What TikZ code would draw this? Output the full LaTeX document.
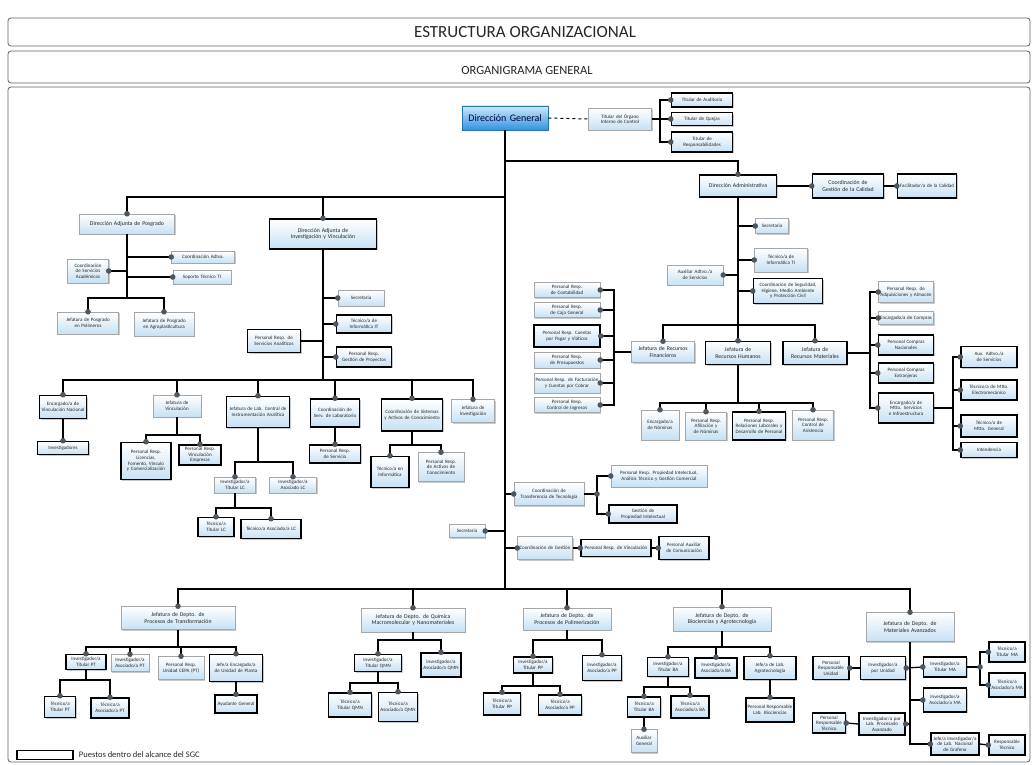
\documentclass[tikz,border=0pt]{standalone}
\usepackage{fontspec}
\setmainfont{Carlito}
\usetikzlibrary{positioning,shadows}
\definecolor{boxblue}{RGB}{198,225,245}
\definecolor{dgtop}{RGB}{205,233,251}
\definecolor{dgbot}{RGB}{48,146,222}
\definecolor{dotgray}{RGB}{78,86,96}
\definecolor{framegray}{RGB}{95,95,95}
\hyphenpenalty=10000
\exhyphenpenalty=10000

\begin{document}
\begin{tikzpicture}[x=1pt,y=-1pt,
box/.style={rectangle, draw=gray!70, line width=0.5pt, top color=white, bottom color=boxblue,
  drop shadow={shadow xshift=1.3pt, shadow yshift=-1.3pt, fill=gray!70, opacity=0.6},
  align=center, inner xsep=1pt, inner ysep=0.5pt,
  font=\fontsize{5}{5.6}\selectfont, text=black!85},
sgc/.style={box, draw=black, line width=1.5pt},
major/.style={font=\fontsize{5.8}{6.6}\selectfont},
sz/.style 2 args={text width=#1pt, minimum height=#2pt},
dg/.style={box, top color=dgtop, bottom color=dgbot, draw=dgbot!80!black, line width=0.8pt,
  font=\fontsize{10}{11}\selectfont, text=blue!25!black},
link/.style={line width=1.3pt, black},
frame/.style={draw=framegray, line width=0.8pt, rounded corners=3pt},
dotc/.style={fill=dotgray}
]
\useasboundingbox (0,0) rectangle (1036,765);

% frames and titles
\draw[frame] (8,18) rectangle (1030,46);
\draw[frame] (8,51) rectangle (1030,83);
\draw[frame] (8,87) rectangle (1030,762);
\node[font=\fontsize{17}{19}\selectfont, text=black!85] (t1) at (525,32) {ESTRUCTURA ORGANIZACIONAL};
\node[font=\fontsize{12.5}{14}\selectfont, text=black!85] (t2) at (527,70) {ORGANIGRAMA GENERAL};

% direccion general
\node[dg, text width=84pt, minimum height=24pt] (DG) at (505,118) {Dirección General};
\node[box, sz={61}{22}] (OIC) at (620,119) {Titular del Órgano Interno de Control};
\node[sgc, sz={59}{14}] (TAud) at (702,100) {Titular de Auditoría};
\node[sgc, sz={59}{13}] (TQue) at (702,119) {Titular de Quejas};
\node[sgc, sz={59}{20}] (TRes) at (702,142) {Titular de Responsabilidades};

% direccion administrativa
\node[sgc, major, sz={75}{22}] (DA) at (738,186) {Dirección Administrativa};
\node[sgc, major, sz={69}{24}] (CGC) at (848,186) {Coordinación de Gestión de la Calidad};
\node[sgc, sz={57}{24}] (FC) at (927,186) {Facilitador/a de la Calidad};
\node[box, sz={31}{15}] (SecA) at (772,226) {Secretaria};
\node[box, sz={51}{24}] (TITI) at (781,260) {Técnico/a de Informática TI};
\node[box, sz={54}{20}] (AAS) at (695,275) {Auxiliar Adtvo./a de Servicios};
\node[sgc, sz={67}{25}] (CSH) at (788,291) {Coordinación de Seguridad, Higiene, Medio Ambiente y Protección Civil};
\node[box, major, sz={61}{21}] (JRF) at (663,352) {Jefatura de Recursos Financieros};
\node[sgc, major, sz={63}{23}] (JRH) at (738,353) {Jefatura de Recursos Humanos};
\node[sgc, major, sz={62}{23}] (JRM) at (815,353) {Jefatura de Recursos Materiales};
\node[box, sz={64}{15}] (F1) at (567,290) {Personal Resp. de Contabilidad};
\node[box, sz={64}{15}] (F2) at (567,310) {Personal Resp. de Caja General};
\node[sgc, sz={64}{22}] (F3) at (567,336) {Personal Resp. Cuentas por Pagar y Viáticos};
\node[box, sz={64}{16}] (F4) at (567,360) {Personal Resp. de Presupuestos};
\node[box, sz={64}{20}] (F5) at (567,383) {Personal Resp. de Facturación y Cuentas por Cobrar};
\node[box, sz={64}{15}] (F6) at (567,405) {Personal Resp. Control de Ingresos};
\node[box, sz={36}{30}] (H1) at (660,425) {Encargado/a de Nóminas};
\node[box, sz={39}{28}] (H2) at (706,426) {Personal Resp. Afiliación y de Nóminas};
\node[sgc, sz={51}{28}] (H3) at (759,426) {Personal Resp. Relaciones Laborales y Desarrollo de Personal};
\node[box, sz={39}{30}] (H4) at (813,425) {Personal Resp. Control de Asistencia};
\node[box, sz={53}{21}] (M1) at (906,292) {Personal Resp. de Adquisiciones y Almacén};
\node[box, sz={53}{13}] (M2) at (906,318) {Encargado/a de Compras};
\node[sgc, sz={53}{20}] (M3) at (906,345) {Personal Compras Nacionales};
\node[sgc, sz={53}{20}] (M4) at (906,373) {Personal Compras Extranjeras};
\node[sgc, sz={53}{30}] (M5) at (906,408) {Encargado/a de Mtto. Servicios e Infraestructura};
\node[sgc, sz={54}{21}] (S1) at (989,357) {Aux. Adtvo./a de Servicios};
\node[sgc, sz={54}{20}] (S2) at (989,390) {Técnico/a de Mtto. Electromecánico};
\node[sgc, sz={54}{22}] (S3) at (989,426) {Técnico/a de Mtto. General};
\node[sgc, sz={54}{15}] (S4) at (989,450) {Intendencia};

% posgrado
\node[box, major, sz={93}{20}] (DAP) at (127,224) {Dirección Adjunta de Posgrado};
\node[box, sz={39}{24}] (CSA) at (88,271) {Coordinación de Servicios Académicos};
\node[box, sz={61}{12}] (CAd) at (203,257) {Coordinación Adtva.};
\node[box, sz={56}{14}] (STI) at (202,277) {Soporte Técnico TI};
\node[box, sz={59}{22}] (JPP) at (88,323) {Jefatura de Posgrado en Polímeros};
\node[box, sz={58}{24}] (JPA) at (164,324) {Jefatura de Posgrado en Agroplasticultura};

% investigacion y vinculacion
\node[sgc, major, sz={105}{30}] (DAI) at (323,234) {Dirección Adjunta de Investigación y Vinculación};
\node[box, sz={44}{16}] (SecI) at (361,298) {Secretaria};
\node[sgc, sz={53}{18}] (TInf) at (364,324) {Técnico/a de Informática IT};
\node[sgc, sz={53}{20}] (PGP) at (364,357) {Personal Resp. Gestión de Proyectos};
\node[sgc, sz={51}{23}] (PSA) at (274,341) {Personal Resp. de Servicios Analíticos};
\node[sgc, sz={45}{23}] (EVN) at (63,407) {Encargado/a de Vinculación Nacional};
\node[sgc, sz={49}{13}] (Inv) at (63,448) {Investigadores};
\node[box, sz={46}{22}] (JV) at (177,406) {Jefatura de Vinculación};
\node[sgc, sz={48}{37}] (PLic) at (146,461) {Personal Resp. Licencias, Fomento, Vínculo y Comercialización};
\node[sgc, sz={40}{20}] (PVI) at (200,455) {Personal Resp. Vinculación Empresas};
\node[sgc, sz={61}{31}] (JLC) at (258,412) {Jefatura de Lab. Central de Instrumentación Analítica};
\node[box, sz={39}{16}] (ITLC) at (235,485) {Investigador/a Titular LC};
\node[box, sz={45}{16}] (IALC) at (293,485) {Investigador/a Asociado LC};
\node[sgc, sz={34}{19}] (TTLC) at (216,527) {Técnico/a Titular LC};
\node[sgc, sz={58}{19}] (TALC) at (271,529) {Técnico/a Asociado/a LC};
\node[sgc, sz={47}{28}] (CSL) at (335,413) {Coordinación de Serv. de Laboratorio};
\node[sgc, sz={49}{18}] (PRS) at (335,454) {Personal Resp. de Servicio};
\node[sgc, sz={59}{32}] (CSAC) at (412,415) {Coordinación de Sistemas y Activos de Conocimiento};
\node[sgc, sz={36}{31}] (TIn) at (390,472) {Técnico/a en Informática};
\node[box, sz={44}{29}] (PAC) at (441,467) {Personal Resp. de Activos de Conocimiento};
\node[box, sz={41}{23}] (JI) at (473,411) {Jefatura de Investigación};

% transferencia y gestion
\node[box, sz={68}{23}] (CTT) at (549,494) {Coordinación de Transferencia de Tecnología};
\node[box, sz={94}{22}] (PPI) at (659,476) {Personal Resp. Propiedad Intelectual, Análisis Técnico y Gestión Comercial};
\node[sgc, sz={66}{18}] (GPI) at (643,514) {Gestión de Propiedad Intelectual};
\node[box, sz={34}{13}] (SecG) at (467,531) {Secretaria};
\node[box, sz={53}{23}] (CG) at (545,548) {Coordinación de Gestión};
\node[sgc, sz={68}{17}] (PRV) at (616,548) {Personal Resp. de Vinculación};
\node[sgc, sz={48}{23}] (PAC2) at (684,548) {Personal Auxiliar de Comunicación};

% departamentos
\node[box, major, sz={112}{23}] (JPT) at (178,618) {Jefatura de Depto. de Procesos de Transformación};
\node[sgc, sz={38}{15}] (ITPT) at (86,662) {Investigador/a Titular PT};
\node[box, sz={36}{17}] (IAPT) at (130,663) {Investigador/a Asociado/a PT};
\node[box, sz={44}{23}] (PCE) at (181,668) {Personal Resp. Unidad CEPA (PT)};
\node[sgc, sz={51}{27}] (EUP) at (236,668) {Jefe/a Encargado/a de Unidad de Planta};
\node[sgc, sz={40}{18}] (AG) at (236,704) {Ayudante General};
\node[sgc, sz={29}{21}] (TTPT) at (60,707) {Técnico/a Titular PT};
\node[sgc, sz={36}{20}] (TAPT) at (110,708) {Técnico/a Asociado/a PT};

\node[box, major, sz={102}{24}] (JQM) at (413,620) {Jefatura de Depto. de Química Macromolecular y Nanomateriales};
\node[sgc, sz={45}{17}] (ITQ) at (378,663) {Investigador/a Titular QMN};
\node[sgc, sz={38}{24}] (IAQ) at (441,665) {Investigador/a Asociado/a QMN};
\node[sgc, sz={41}{24}] (TTQ) at (350,705) {Técnico/a Titular QMN};
\node[sgc, sz={37}{29}] (TAQ) at (398,707) {Técnico/a Asociado/a QMN};

\node[box, major, sz={86}{22}] (JPO) at (567,619) {Jefatura de Depto. de Procesos de Polimerización};
\node[sgc, sz={37}{16}] (ITPP) at (533,665) {Investigador/a Titular PP};
\node[sgc, sz={37}{25}] (IAPP) at (602,668) {Investigador/a Asociado/a PP};
\node[sgc, sz={35}{22}] (TTPP) at (502,704) {Técnico/a Titular PP};
\node[sgc, sz={41}{20}] (TAPP) at (560,705) {Técnico/a Asociado/a PP};

\node[box, major, sz={96}{24}] (JBA) at (722,619) {Jefatura de Depto. de Biociencias y Agrotecnología};
\node[sgc, sz={39}{19}] (ITBA) at (668,667) {Investigador/a Titular BA};
\node[sgc, sz={40}{20}] (IABA) at (716,668) {Investigador/a Asociado/a BA};
\node[sgc, sz={50}{23}] (JLA) at (770,668) {Jefe/a de Lab. Agrotecnología};
\node[sgc, sz={46}{24}] (PLA) at (770,710) {Personal Responsable Lab. Biociencias};
\node[sgc, sz={31}{20}] (TTBA) at (644,707) {Técnico/a Titular BA};
\node[sgc, sz={36}{22}] (TABA) at (690,707) {Técnico/a Asociado/a BA};
\node[box, sz={24}{23}] (AuxG) at (644,741) {Auxiliar General};

\node[box, major, sz={86}{29}] (JMA) at (910,627) {Jefatura de Depto. de Materiales Avanzados};
\node[sgc, sz={34}{23}] (PRU) at (831,668) {Personal Responsable Unidad};
\node[sgc, sz={43}{23}] (IPU) at (883,668) {Investigador/a por Unidad};
\node[sgc, sz={41}{20}] (ITMA) at (945,667) {Investigador/a Titular MA};
\node[sgc, sz={34}{20}] (TTMA) at (1007,652) {Técnico/a Titular MA};
\node[sgc, sz={34}{24}] (TAMA) at (1007,685) {Técnico/a Asociado/a MA};
\node[sgc, sz={41}{24}] (IAMA) at (945,700) {Investigador/a Asociado/a MA};
\node[sgc, sz={31}{20}] (PRT) at (829,723) {Personal Responsable Técnico};
\node[sgc, sz={44}{22}] (IPL) at (882,724) {Investigador/a por Lab. Procesado Avanzado};
\node[sgc, sz={46}{22}] (JLM) at (955,744) {Jefe/a Investigador/a de Lab. Nacional de Grafeno};
\node[sgc, sz={34}{20}] (RT) at (1007,745) {Responsable Técnico};

% leyenda
\node[draw=black, line width=1.5pt, fill=white, minimum width=56pt, minimum height=9pt, inner sep=0pt] (leg) at (45,755) {};
\node[right=5pt of leg, font=\fontsize{8.5}{9}\selectfont, text=black!85, inner sep=0pt] (legt) {Puestos dentro del alcance del SGC};

% bus points
\coordinate (spB) at (505,589);
\coordinate (jA) at (505,161);
\coordinate (jP) at (505,197);
\coordinate (oicB) at (660,119);
\coordinate (daB) at (738,325);
\coordinate (rfB) at (614,352);
\coordinate (rhB) at (738,403);
\coordinate (rmB) at (870,353);
\coordinate (mtB) at (953,408);
\coordinate (apB) at (127,298);
\coordinate (aiB) at (323,380);
\coordinate (jvB) at (177,435);
\coordinate (lcB) at (258,462);
\coordinate (tlB) at (235,508);
\coordinate (saB) at (412,445);
\coordinate (ttB) at (597,494);
\coordinate (ptB) at (178,647);
\coordinate (tpB) at (86,680);
\coordinate (qmB) at (413,640);
\coordinate (tqB) at (378,683);
\coordinate (poB) at (567,640);
\coordinate (tppB) at (533,686);
\coordinate (baB) at (722,647);
\coordinate (tbB) at (668,687);
\coordinate (tmB) at (980,667);

% connectors
\draw[link] (DG.south) -- (spB);
\draw[line width=1pt, dashed] (DG.east) -- (OIC.west);
\draw[link] (OIC.east) -- (oicB);
\draw[link] (TAud.west) -- (TAud.west -| oicB) -- (TRes.west -| oicB) -- (TRes.west);
\draw[link] (TQue.west) -- (TQue.west -| oicB);

\draw[link] (jA) -| (DA.north);
\draw[link] (DA.east) -- (CGC.west);
\draw[link] (CGC.east) -- (FC.west);
\draw[link] (DA.south) -- (daB);
\foreach \n in {SecA,TITI,CSH}
  \draw[link] (\n.west) -- (\n.west -| daB);
\draw[link] (AAS.east) -- (AAS.east -| daB);
\draw[link] (JRF.north) |- (daB) -| (JRM.north);
\draw[link] (daB) -- (JRH.north);
\draw[link] (JRF.west) -- (rfB);
\draw[link] (F1.east) -- (F1.east -| rfB) -- (F6.east -| rfB) -- (F6.east);
\foreach \n in {F2,F3,F4,F5}
  \draw[link] (\n.east) -- (\n.east -| rfB);
\draw[link] (JRH.south) -- (rhB);
\draw[link] (H1.north) |- (rhB) -| (H4.north);
\draw[link] (H2.north) -- (H2.north |- rhB);
\draw[link] (H3.north) -- (H3.north |- rhB);
\draw[link] (JRM.east) -- (rmB);
\draw[link] (M1.west) -- (M1.west -| rmB) -- (M5.west -| rmB) -- (M5.west);
\foreach \n in {M2,M3,M4}
  \draw[link] (\n.west) -- (\n.west -| rmB);
\draw[link] (M5.east) -- (mtB);
\draw[link] (S1.west) -- (S1.west -| mtB) -- (S4.west -| mtB) -- (S4.west);
\foreach \n in {S2,S3}
  \draw[link] (\n.west) -- (\n.west -| mtB);

\draw[link] (jP) -| (DAP.north);
\draw[link] (DAI.north) -- (DAI.north |- jP);
\draw[link] (DAP.south) -- (apB);
\draw[link] (JPP.north) |- (apB) -| (JPA.north);
\draw[link] (CSA.east) -- (CSA.east -| apB);
\draw[link] (CAd.west) -- (CAd.west -| apB);
\draw[link] (STI.west) -- (STI.west -| apB);

\draw[link] (DAI.south) -- (aiB);
\foreach \n in {SecI,TInf,PGP}
  \draw[link] (\n.west) -- (\n.west -| aiB);
\draw[link] (PSA.east) -- (PSA.east -| aiB);
\draw[link] (EVN.north) |- (aiB) -| (JI.north);
\foreach \n in {JV,JLC,CSL,CSAC}
  \draw[link] (\n.north) -- (\n.north |- aiB);
\draw[link] (EVN.south) -- (Inv.north);
\draw[link] (JV.south) -- (jvB);
\draw[link] (PLic.north) |- (jvB) -| (PVI.north);
\draw[link] (JLC.south) -- (lcB);
\draw[link] (ITLC.north) |- (lcB) -| (IALC.north);
\draw[link] (ITLC.south) -- (tlB);
\draw[link] (TTLC.north) |- (tlB) -| (TALC.north);
\draw[link] (CSL.south) -- (PRS.north);
\draw[link] (CSAC.south) -- (saB);
\draw[link] (TIn.north) |- (saB) -| (PAC.north);

\draw[link] (CTT.west) -- (CTT.west -| spB);
\draw[link] (CG.west) -- (CG.west -| spB);
\draw[link] (SecG.east) -- (SecG.east -| spB);
\draw[link] (CTT.east) -- (ttB);
\draw[link] (PPI.west) -- (PPI.west -| ttB) -- (GPI.west -| ttB) -- (GPI.west);
\draw[link] (CG.east) -- (PRV.west);
\draw[link] (PRV.east) -- (PAC2.west);

\draw[link] (JPT.north) |- (spB) -| (JMA.north);
\foreach \n in {JQM,JPO,JBA}
  \draw[link] (\n.north) -- (\n.north |- spB);

\draw[link] (JPT.south) -- (ptB);
\draw[link] (ITPT.north) |- (ptB) -| (EUP.north);
\draw[link] (IAPT.north) -- (IAPT.north |- ptB);
\draw[link] (PCE.north) -- (PCE.north |- ptB);
\draw[link] (EUP.south) -- (AG.north);
\draw[link] (ITPT.south) -- (tpB);
\draw[link] (TTPT.north) |- (tpB) -| (TAPT.north);

\draw[link] (JQM.south) -- (qmB);
\draw[link] (ITQ.north) |- (qmB) -| (IAQ.north);
\draw[link] (ITQ.south) -- (tqB);
\draw[link] (TTQ.north) |- (tqB) -| (TAQ.north);

\draw[link] (JPO.south) -- (poB);
\draw[link] (ITPP.north) |- (poB) -| (IAPP.north);
\draw[link] (ITPP.south) -- (tppB);
\draw[link] (TTPP.north) |- (tppB) -| (TAPP.north);

\draw[link] (JBA.south) -- (baB);
\draw[link] (ITBA.north) |- (baB) -| (JLA.north);
\draw[link] (IABA.north) -- (IABA.north |- baB);
\draw[link] (JLA.south) -- (PLA.north);
\draw[link] (ITBA.south) -- (tbB);
\draw[link] (TTBA.north) |- (tbB) -| (TABA.north);
\draw[link] (TTBA.south) -- (AuxG.north);

\draw[link] (JMA.south) |- (JLM.west);
\draw[link] (IPU.east) -- (ITMA.west);
\draw[link] (PRU.east) -- (IPU.west);
\draw[link] (IAMA.west) -- (IAMA.west -| JMA.south);
\draw[link] (IPL.east) -- (IPL.east -| JMA.south);
\draw[link] (PRT.east) -- (IPL.west);
\draw[link] (JLM.east) -- (RT.west);
\draw[link] (ITMA.east) -- (tmB);
\draw[link] (TTMA.west) -- (TTMA.west -| tmB) -- (TAMA.west -| tmB) -- (TAMA.west);

% dots
\foreach \p in {TAud.west,TQue.west,TRes.west,DA.north,CGC.west,FC.west,
  SecA.west,TITI.west,CSH.west,AAS.east,JRF.north,JRH.north,JRM.north,
  F1.east,F2.east,F3.east,F4.east,F5.east,F6.east,H1.north,H2.north,H3.north,H4.north,
  M1.west,M2.west,M3.west,M4.west,M5.west,S1.west,S2.west,S3.west,S4.west,
  DAP.north,DAI.north,CSA.east,CAd.west,STI.west,JPP.north,JPA.north,
  SecI.west,TInf.west,PGP.west,EVN.north,Inv.north,JV.north,PLic.north,PVI.north,
  JLC.north,ITLC.north,IALC.north,TTLC.north,TALC.north,CSL.north,PRS.north,
  CSAC.north,TIn.north,PAC.north,JI.north,
  CTT.west,ttB,PPI.west,GPI.west,SecG.east,CG.west,PRV.west,PAC2.west,
  JPT.north,ITPT.north,IAPT.north,PCE.north,EUP.north,AG.north,TTPT.north,TAPT.north,
  JQM.north,ITQ.north,IAQ.north,TTQ.north,TAQ.north,
  JPO.north,ITPP.north,IAPP.north,TTPP.north,TAPP.north,
  JBA.north,ITBA.north,IABA.north,JLA.north,PLA.north,TTBA.north,TABA.north,AuxG.north,
  JMA.north,PRU.east,IPU.east,ITMA.west,tmB,TTMA.west,TAMA.west,IAMA.west,
  PRT.east,IPL.east,JLM.west,RT.west}
  \fill[dotc] (\p) circle (2.8pt);
\end{tikzpicture}
\end{document}
